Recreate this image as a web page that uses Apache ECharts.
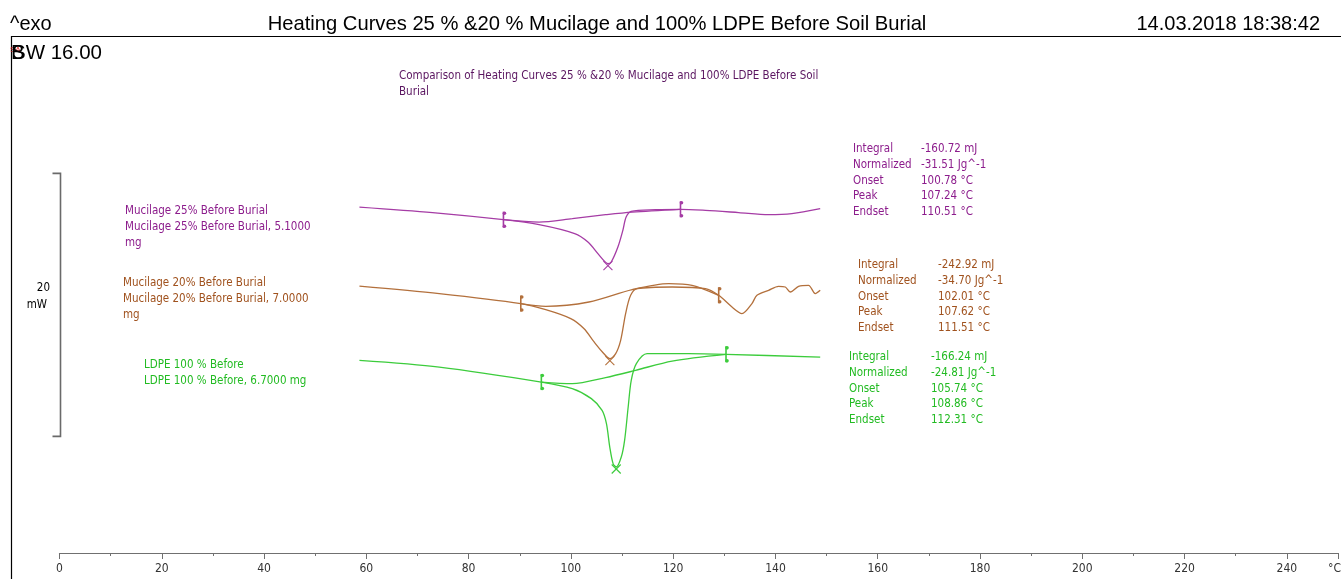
<!DOCTYPE html>
<html>
<head>
<meta charset="utf-8">
<title>Heating Curves</title>
<script src="https://cdn.jsdelivr.net/npm/echarts@6/dist/echarts.min.js"></script>
<style>
  html, body { margin: 0; padding: 0; background: #ffffff; }
  #chart { width: 1341px; height: 579px; }
</style>
</head>
<body>
<div id="chart"></div>
<script>
// DSC heating curves: [temperature °C, heat flow mW (curves stacked with offsets)]
const m25Curve = [
  [58.65, 26.31], [72.95, 25.89], [86.81, 25.35], [93.77, 24.97], [100.74, 24.29],
  [103.33, 23.65], [105.28, 22.77], [106.59, 22.18], [107.24, 22.01], [107.88, 22.13],
  [109.19, 23.27], [110.16, 24.54], [110.80, 25.55], [111.78, 25.98], [116.55, 26.11],
  [121.43, 26.14], [126.31, 26.06], [132.81, 25.89], [138.66, 25.73], [143.21, 25.81],
  [148.75, 26.19]
];
const m25Base = [
  [86.81, 25.35], [93.77, 25.17], [100.27, 25.43], [106.79, 25.73], [111.98, 25.93], [121.43, 26.14]
];

const m20Curve = [
  [58.65, 20.30], [74.26, 19.73], [90.20, 18.97], [95.08, 18.51], [99.97, 17.83],
  [102.58, 17.06], [104.54, 16.05], [106.16, 15.29], [107.62, 14.78], [108.76, 15.16],
  [109.73, 16.17], [110.70, 18.21], [111.68, 19.60], [112.99, 20.11], [119.79, 20.23],
  [126.31, 20.11], [128.90, 19.60], [131.50, 18.71], [133.45, 18.21], [135.40, 18.97],
  [136.38, 19.60], [138.66, 19.98], [140.61, 20.28], [141.92, 20.23], [142.90, 19.85],
  [144.52, 20.28], [146.47, 20.36], [147.78, 19.73], [148.75, 19.98]
];
const m20Base = [
  [90.20, 18.97], [95.08, 18.76], [103.53, 19.09], [111.98, 20.03], [119.15, 20.49],
  [123.69, 20.36], [128.90, 19.60]
];

const ldpeCurve = [
  [58.65, 14.65], [74.26, 14.14], [94.22, 13.00], [100.27, 12.50], [104.00, 11.74],
  [106.10, 10.85], [106.95, 9.84], [107.60, 8.06], [108.25, 6.80], [108.86, 6.54],
  [109.85, 7.30], [110.50, 8.57], [111.20, 11.10], [111.80, 13.13], [112.80, 14.40],
  [114.90, 15.16], [123.05, 15.16], [130.33, 15.11], [148.75, 14.90]
];
const ldpeBase = [
  [94.22, 13.00], [100.27, 12.88], [106.79, 13.34], [112.65, 13.89], [119.79, 14.60], [130.33, 15.11]
];

// Evaluation results: Integral (mJ), Normalized (Jg^-1), Onset, Peak, Endset (°C)
const statNames = ['Integral', 'Normalized', 'Onset', 'Peak', 'Endset'];
const statUnits = ['mJ', 'Jg^-1', '°C', '°C', '°C'];
const m25Stats = [-160.72, -31.51, 100.78, 107.24, 110.51];
const m20Stats = [-242.92, -34.70, 102.01, 107.62, 111.51];
const ldpeStats = [-166.24, -24.81, 105.74, 108.86, 112.31];

// Sample labels
const m25Label = ['Mucilage 25% Before Burial', 'Mucilage 25% Before Burial, 5.1000', 'mg'];
const m20Label = ['Mucilage 20% Before Burial', 'Mucilage 20% Before Burial, 7.0000', 'mg'];
const ldpeLabel = ['LDPE 100 % Before', 'LDPE 100 % Before, 6.7000 mg'];

// Heat-flow scale bar: 20 mW between these two levels
const scaleBar = [8.87, 28.87];
const scaleBarText = ['20', 'mW'];

const xTickStep = 20;
const xMax = 250;

const C_M25 = '#a53ca5', T_M25 = '#8c1c8c';
const C_M20 = '#b3703c', T_M20 = '#a0521e';
const C_LDPE = '#3ccc3c', T_LDPE = '#22bb22';
const UI = 'DejaVu Sans Condensed';
const HEAD = 'Liberation Sans';

function curveSeries(data, color) {
  return {
    type: 'line', data: data, showSymbol: false, smooth: 0.3,
    silent: true, clip: false,
    lineStyle: { color: color, width: 1.3 }
  };
}

// Integration limit marks at the ends of each baseline
function limitSeries(base, color) {
  const ends = [base[0], base[base.length - 1]];
  return {
    type: 'custom', data: ends, silent: true, z: 5,
    renderItem: function (params, api) {
      const p = api.coord([api.value(0), api.value(1)]);
      return {
        type: 'group', children: [
          { type: 'line', shape: { x1: p[0], y1: p[1] - 8, x2: p[0], y2: p[1] + 8 },
            style: { stroke: color, lineWidth: 1.6 } },
          { type: 'circle', shape: { cx: p[0] + 1, cy: p[1] - 6.5, r: 1.8 }, style: { fill: color } },
          { type: 'circle', shape: { cx: p[0] + 1, cy: p[1] + 6.5, r: 1.8 }, style: { fill: color } }
        ]
      };
    }
  };
}

// Cross mark at the peak temperature
function peakSeries(curve, peakT, color) {
  const pt = curve.find(d => d[0] === peakT);
  return {
    type: 'custom', data: [pt], silent: true, z: 5,
    renderItem: function (params, api) {
      const p = api.coord([api.value(0), api.value(1)]);
      const h = 4.5, cy = p[1] + 2;
      return {
        type: 'group', children: [
          { type: 'line', shape: { x1: p[0] - h, y1: cy - h, x2: p[0] + h, y2: cy + h }, style: { stroke: color, lineWidth: 1.1 } },
          { type: 'line', shape: { x1: p[0] - h, y1: cy + h, x2: p[0] + h, y2: cy - h }, style: { stroke: color, lineWidth: 1.1 } }
        ]
      };
    }
  };
}

const scaleSeries = {
  type: 'custom', data: [[0, scaleBar[0], scaleBar[1]]], silent: true, clip: false,
  renderItem: function (params, api) {
    const top = api.coord([api.value(0), api.value(2)]);
    const bot = api.coord([api.value(0), api.value(1)]);
    const x = Math.round(top[0]) + 0.5;
    return {
      type: 'polyline',
      shape: { points: [[x - 8, top[1]], [x, top[1]], [x, bot[1]], [x - 8, bot[1]]] },
      style: { stroke: '#6a6a6a', lineWidth: 1.6, fill: null }
    };
  }
};

function txt(x, y, text, color, size, family, align) {
  return {
    type: 'text', x: x, y: y, silent: true,
    style: {
      text: text, fill: color, font: size + 'px "' + family + '"',
      align: align || 'left', verticalAlign: 'middle',
      textAlign: align || 'left', textVerticalAlign: 'middle'
    }
  };
}

const SMALL = 11.5;

function statBlock(stats, x0, x1, y0, color) {
  const out = [];
  stats.forEach((v, i) => {
    const y = y0 + i * 15.8;
    out.push(txt(x0, y, statNames[i], color, SMALL, UI));
    out.push(txt(x1, y, v.toFixed(2) + ' ' + statUnits[i], color, SMALL, UI));
  });
  return out;
}

function labelBlock(lines, x, y0, color) {
  return lines.map((s, i) => txt(x, y0 + i * 16, s, color, SMALL, UI));
}

const graphics = [
  // frame
  { type: 'line', silent: true, shape: { x1: 11, y1: 36.5, x2: 1341, y2: 36.5 }, style: { stroke: '#000', lineWidth: 1.2 } },
  { type: 'line', silent: true, shape: { x1: 11.5, y1: 36, x2: 11.5, y2: 579 }, style: { stroke: '#000', lineWidth: 1.2 } },
  // header
  txt(10, 24, '^exo', '#000', 20, HEAD),
  txt(597, 24, 'Heating Curves 25 % &20 % Mucilage and 100% LDPE Before Soil Burial', '#000', 20.2, HEAD, 'center'),
  txt(1320, 24, '14.03.2018 18:38:42', '#000', 20, HEAD, 'right'),
  txt(10, 50, 'SA', '#e01010', 8, HEAD),
  txt(12, 53, 'SW 16.00', '#000', 20.5, HEAD),
  txt(11, 53, 'B', '#000', 20.5, HEAD),
  // comment
  txt(399, 76, 'Comparison of Heating Curves 25 % &20 % Mucilage and 100% LDPE Before Soil', '#5a1560', SMALL, UI),
  txt(399, 92, 'Burial', '#5a1560', SMALL, UI),
  // scale bar text
  txt(50, 288, scaleBarText[0], '#000', SMALL, UI, 'right'),
  txt(47, 305, scaleBarText[1], '#000', SMALL, UI, 'right'),
  // axis unit
  txt(1328, 569, '°C', '#333', 12, UI)
].concat(
  labelBlock(m25Label, 125, 211, T_M25),
  labelBlock(m20Label, 123, 283, T_M20),
  labelBlock(ldpeLabel, 144, 365, T_LDPE),
  statBlock(m25Stats, 853, 921, 149, T_M25),
  statBlock(m20Stats, 858, 938, 265, T_M20),
  statBlock(ldpeStats, 849, 931, 357, T_LDPE)
);

const chart = echarts.init(document.getElementById('chart'), null, { renderer: 'canvas' });
chart.setOption({
  animation: false,
  backgroundColor: '#ffffff',
  grid: { left: 59.5, right: 0, top: 36, bottom: 26, containLabel: false },
  xAxis: {
    type: 'value', min: 0, max: xMax, interval: xTickStep,
    axisLine: { show: true, lineStyle: { color: '#707070', width: 1.2 } },
    axisTick: { show: true, length: 6, lineStyle: { color: '#707070' } },
    minorTick: { show: true, splitNumber: 2, length: 3, lineStyle: { color: '#707070' } },
    splitLine: { show: false },
    minorSplitLine: { show: false },
    axisLabel: {
      color: '#333', fontSize: 12, fontFamily: UI, margin: 10,
      formatter: v => (v > 240 ? '' : String(v))
    }
  },
  yAxis: { type: 'value', min: 0, max: 39.32, show: false, splitLine: { show: false } },
  series: [
    curveSeries(m25Curve, C_M25), curveSeries(m25Base, C_M25),
    curveSeries(m20Curve, C_M20), curveSeries(m20Base, C_M20),
    curveSeries(ldpeCurve, C_LDPE), curveSeries(ldpeBase, C_LDPE),
    limitSeries(m25Base, C_M25), limitSeries(m20Base, C_M20), limitSeries(ldpeBase, C_LDPE),
    peakSeries(m25Curve, m25Stats[3], C_M25), peakSeries(m20Curve, m20Stats[3], C_M20),
    peakSeries(ldpeCurve, ldpeStats[3], C_LDPE),
    scaleSeries
  ],
  graphic: graphics
});
</script>
</body>
</html>
